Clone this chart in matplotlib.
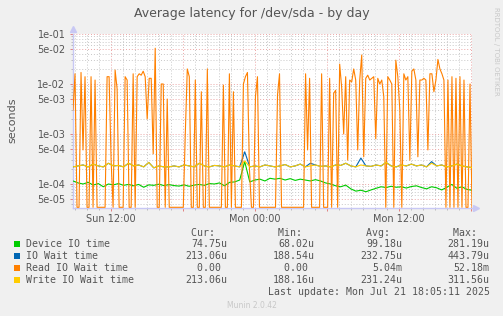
# -*- coding: utf-8 -*-

import numpy as np;
import pandas as pd;
import matplotlib;
matplotlib.use("Agg");
from matplotlib import pyplot as plt;
from matplotlib import dates as mdates;
from matplotlib import ticker;
from matplotlib.patches import Rectangle;

# time window of the munin "day" graph
start_time="2025-07-20 08:50";
end_time="2025-07-21 18:05";

# Read IO Wait time (seconds), 0 = no reads in that interval
read_wait=[3e-3,1.6e-2,0,0,1.7e-2,4.8e-4,1.4e-2,0,0,1.4e-2,
           0,1.2e-2,0,0,0,0,0,1.4e-2,1.4e-2,3e-4,
           0,1.9e-2,8e-3,0,0,0,1.4e-2,1.2e-2,0,0,
           1.6e-2,0,1.4e-2,1.6e-2,1.5e-2,1.8e-2,1.4e-2,2e-3,1.3e-2,1.3e-2,
           4e-4,5.2e-2,0,0,1e-2,1e-2,0,5e-3,0,0,
           0,0,0,0,0,0,1e-3,2e-2,1.4e-2,0,
           0,1.2e-2,0,0,7e-3,0,0,2e-2,0,0,
           0,0,0,0,0,9.5e-3,0,0,1.6e-2,0,
           7e-3,0,0,0,0,1e-2,1.4e-2,1.7e-2,2e-4,0,
           0,5.6e-3,1.4e-2,0,0,0,0,0,0,0,
           0,0,6e-3,1.6e-2,0,0,0,0,0,0,
           0,0,0,0,0,0,1.6e-2,4.8e-4,1.3e-2,0,
           0,0,0,0,1.6e-2,0,0,0,1.3e-2,0,
           6.5e-3,7.5e-3,0,2.5e-2,8.5e-3,1e-3,1.4e-2,3e-4,1.2e-2,1.1e-2,
           2e-2,1.2e-2,4.8e-4,1.2e-2,3.8e-2,3.5e-4,1.3e-2,1.5e-2,1.2e-2,1.3e-2,
           1.4e-2,8e-4,1.3e-2,1e-2,1.2e-2,5.6e-3,0,1.4e-2,1.2e-2,1e-2,
           0,3e-2,1.4e-2,3e-3,0,1.6e-2,1.2e-2,1.4e-2,3e-4,1.8e-2,
           2e-2,1.2e-2,3.5e-4,1.2e-2,1.2e-2,1.3e-2,1.2e-2,4.8e-4,1.6e-2,1.6e-2,
           7e-3,1.2e-2,3.1e-2,2e-2,1.6e-2,1.2e-2,0,1.2e-2,0,1.4e-2,
           0,1.3e-2,0,1.4e-2,0,1.2e-2,0,0,1e-2,0];

# Device IO time (seconds)
device_io=[1.15e-4,1.05e-4,1.0e-4,1.08e-4,9.5e-5,1.02e-4,8.8e-5,1.0e-4,9.6e-5,1.02e-4,
           9.4e-5,9.8e-5,9.2e-5,9.8e-5,8.6e-5,9.6e-5,9.4e-5,9.9e-5,9.3e-5,9.7e-5,
           9.3e-5,9.1e-5,9.6e-5,9.0e-5,9.5e-5,9.8e-5,9.4e-5,1.02e-4,1.0e-4,1.05e-4,
           9.2e-5,1.08e-4,1.1e-4,1.2e-4,2.8e-4,1.1e-4,1.2e-4,1.25e-4,1.15e-4,1.3e-4,
           1.25e-4,1.3e-4,1.2e-4,1.28e-4,1.18e-4,1.25e-4,1.2e-4,1.15e-4,1.22e-4,1.15e-4,
           1.05e-4,1.0e-4,9.2e-5,8.8e-5,9.5e-5,8.0e-5,7.2e-5,7.5e-5,7.0e-5,7.6e-5,
           8.2e-5,8.8e-5,8.5e-5,9.0e-5,8.6e-5,8.8e-5,8.3e-5,8.9e-5,9.2e-5,8.5e-5,
           8.0e-5,8.8e-5,8.4e-5,7.6e-5,8.6e-5,9.8e-5,8.2e-5,8.8e-5,7.8e-5,7.5e-5];

# IO Wait time (seconds)
io_wait=[2.2e-4,2.3e-4,2.4e-4,2.2e-4,2.5e-4,2.3e-4,2.2e-4,2.6e-4,2.3e-4,2.35e-4,
         2.2e-4,2.6e-4,2.3e-4,2.4e-4,2.2e-4,2.7e-4,2.1e-4,2.3e-4,2.2e-4,2.2e-4,
         2.3e-4,2.2e-4,2.4e-4,2.3e-4,2.2e-4,2.6e-4,2.3e-4,2.2e-4,2.35e-4,2.3e-4,
         2.2e-4,2.4e-4,2.3e-4,2.2e-4,4.4e-4,2.2e-4,2.3e-4,2.2e-4,2.4e-4,2.3e-4,
         2.2e-4,2.3e-4,2.45e-4,2.2e-4,2.3e-4,2.5e-4,2.2e-4,2.6e-4,2.4e-4,2.25e-4,
         2.3e-4,2.2e-4,2.4e-4,2.35e-4,2.6e-4,2.3e-4,2.2e-4,3.3e-4,2.3e-4,2.25e-4,
         2.4e-4,2.3e-4,2.7e-4,2.3e-4,2.2e-4,2.4e-4,2.3e-4,2.5e-4,2.3e-4,2.4e-4,
         2.2e-4,2.8e-4,2.3e-4,2.4e-4,2.2e-4,2.3e-4,2.5e-4,2.3e-4,2.2e-4,2.13e-4];

# Write IO Wait time (seconds)
write_wait=[2.2e-4,2.3e-4,2.4e-4,2.2e-4,2.5e-4,2.3e-4,2.2e-4,2.6e-4,2.3e-4,2.35e-4,
            2.2e-4,2.6e-4,2.3e-4,2.4e-4,2.2e-4,2.7e-4,2.1e-4,2.3e-4,2.2e-4,2.2e-4,
            2.3e-4,2.2e-4,2.4e-4,2.3e-4,2.2e-4,2.6e-4,2.3e-4,2.2e-4,2.35e-4,2.3e-4,
            2.2e-4,2.4e-4,2.3e-4,2.2e-4,2.9e-4,2.2e-4,2.3e-4,2.2e-4,2.4e-4,2.3e-4,
            2.2e-4,2.3e-4,2.45e-4,2.2e-4,2.3e-4,2.5e-4,2.2e-4,2.3e-4,2.4e-4,2.25e-4,
            2.3e-4,2.2e-4,2.4e-4,2.35e-4,2.6e-4,2.3e-4,2.2e-4,2.4e-4,2.3e-4,2.25e-4,
            2.4e-4,2.3e-4,2.7e-4,2.3e-4,2.2e-4,2.4e-4,2.3e-4,2.5e-4,2.3e-4,2.4e-4,
            2.2e-4,2.6e-4,2.3e-4,2.4e-4,2.2e-4,2.3e-4,2.5e-4,2.3e-4,2.2e-4,2.13e-4];

legend_names=["Device IO time","IO Wait time","Read IO Wait time","Write IO Wait time"];
legend_colors=["#00CC00","#0066B3","#FF8000","#FFCC00"];
stat_heads=["Cur:","Min:","Avg:","Max:"];
stat_values=[["74.75u","68.02u","99.18u","281.19u"],
             ["213.06u","188.54u","232.75u","443.79u"],
             ["0.00 ","0.00 ","5.04m","52.18m"],
             ["213.06u","188.16u","231.24u","311.56u"]];
last_update="Last update: Mon Jul 21 18:05:11 2025";

W=503; H=316;
TXT="#555555";
MONO=7.15;
CHARW=5.97;  # pixel width of one mono char

def fx(x):
    return x/W;

def fy(y):
    return 1-y/H;

fig=plt.figure(figsize=(W/100,H/100),dpi=100);
fig.patch.set_facecolor("#F0F0F0");

ax=fig.add_axes([fx(73),fy(208),399/W,174/H]);
ax.set_facecolor("white");

t_fine=pd.date_range(start_time,end_time,periods=len(read_wait));
t_coarse=pd.date_range(start_time,end_time,periods=len(device_io));

ybottom=3.31e-5;
zero_level=3.42e-5;  # rrdtool puts 0 on the floor of a log graph
read_plot=np.array(read_wait,dtype=float);
read_plot[read_plot==0]=zero_level;

ax.plot(t_coarse,device_io,color=legend_colors[0],lw=0.8,zorder=3);
ax.plot(t_coarse,io_wait,color=legend_colors[1],lw=0.8,zorder=3);
ax.plot(t_fine,read_plot,color=legend_colors[2],lw=0.8,zorder=4);
ax.plot(t_coarse,write_wait,color=legend_colors[3],lw=0.8,zorder=5);

ax.set_yscale("log");
ax.set_ylim(ybottom,1e-1);
ax.set_xlim(t_fine[0],t_fine[-1]);

ax.yaxis.set_major_locator(ticker.LogLocator(base=10,subs=(1.0,5.0)));
ax.yaxis.set_minor_locator(ticker.LogLocator(base=10,subs=(2,3,4,6,7,8,9)));
ax.yaxis.set_major_formatter(ticker.FuncFormatter(lambda v,p: "%.0e"%v));
ax.yaxis.set_minor_formatter(ticker.NullFormatter());

ax.xaxis.set_major_locator(mdates.HourLocator(byhour=[0,6,12,18]));
ax.xaxis.set_minor_locator(mdates.HourLocator());
def xlabel(v,p):
    d=mdates.num2date(v);
    if d.hour in (0,12):
        return d.strftime("%a %H:%M");
    return "";
ax.xaxis.set_major_formatter(ticker.FuncFormatter(xlabel));

dots=(0,(1,2));
ax.grid(which="major",color="#EBA5A5",linestyle=dots,lw=0.7,zorder=1);
ax.grid(which="minor",color="#C8C8C8",linestyle=dots,lw=0.7,zorder=1);
ax.set_axisbelow(True);

for s in ["top","right"]:
    ax.spines[s].set_visible(False);
for s in ["left","bottom"]:
    ax.spines[s].set_color("#C8C8F4");
    ax.spines[s].set_linewidth(1.0);

ax.tick_params(which="major",length=2,width=0.7,color="#E08080",labelsize=7,labelcolor=TXT);
ax.tick_params(which="minor",length=1.5,width=0.6,color="#B0B0B0");
ax.tick_params(axis="y",which="major",pad=3.5);
ax.tick_params(axis="x",which="major",pad=2.0);

# axis arrows
ax.plot([fx(476)],[fy(208)],marker=">",ms=4,color="#C8C8F4",transform=fig.transFigure,clip_on=False);
ax.plot([fx(73)],[fy(29)],marker="^",ms=4,color="#C8C8F4",transform=fig.transFigure,clip_on=False);

fig.text(fx(252),fy(13),"Average latency for /dev/sda - by day",ha="center",va="center",fontsize=9,color=TXT);
fig.text(fx(12),fy(120),"seconds",ha="center",va="center",rotation=90,fontsize=8,color=TXT);
fig.text(fx(496),fy(7),"RRDTOOL / TOBI OETIKER",ha="center",va="top",rotation=270,fontsize=5,color="#C8C8C8");

# legend block
col_right=[226.7,314.3,401.7,489.0];
for i in range(4):
    head=stat_heads[i]+"  ";
    fig.text(fx(col_right[i]-len(head)*CHARW),fy(232.5),head,ha="left",va="center",
             family="DejaVu Sans Mono",fontsize=MONO,color=TXT);

for r in range(4):
    y=244.3+12*r;
    fig.add_artist(Rectangle((fx(14),fy(y+3)),6/W,6/H,transform=fig.transFigure,
                             facecolor=legend_colors[r],edgecolor="none"));
    fig.text(fx(26.5),fy(y),legend_names[r],ha="left",va="center",
             family="DejaVu Sans Mono",fontsize=MONO,color=TXT);
    for i in range(4):
        s=stat_values[r][i];
        fig.text(fx(col_right[i]-len(s)*CHARW),fy(y),s,ha="left",va="center",
                 family="DejaVu Sans Mono",fontsize=MONO,color=TXT);

fig.text(fx(489.0-len(last_update)*CHARW),fy(291.7),last_update,ha="left",va="center",
         family="DejaVu Sans Mono",fontsize=MONO,color=TXT);
fig.text(fx(252),fy(306),"Munin 2.0.42",ha="center",va="center",fontsize=5.5,color="#C8C8C8");

fig.savefig("out.png",dpi=100,facecolor=fig.get_facecolor());
